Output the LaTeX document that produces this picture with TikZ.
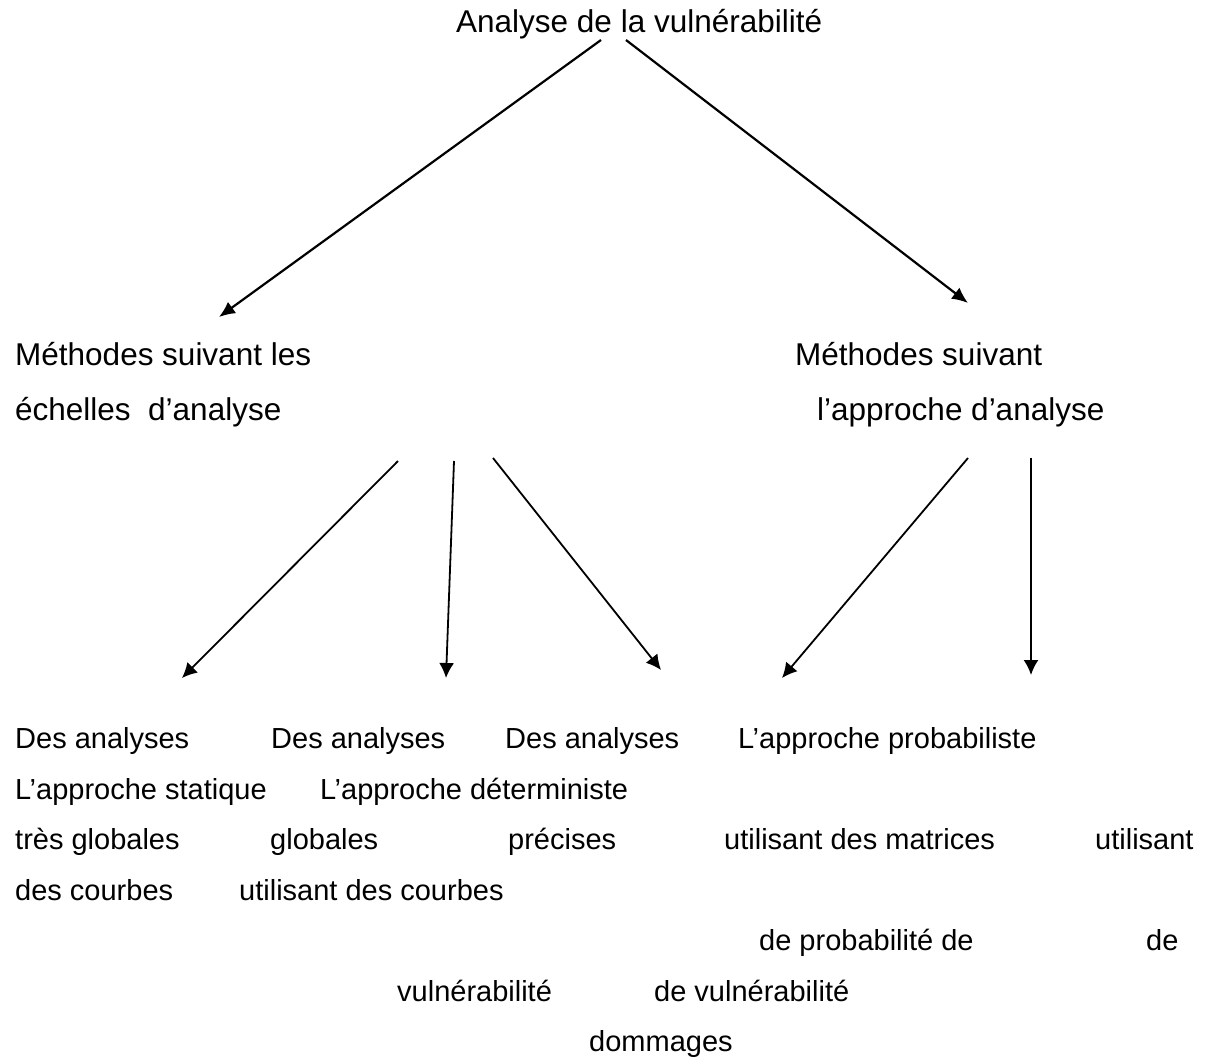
\documentclass[tikz,border=0pt]{standalone}
\usepackage{fontspec}
\setmainfont{Liberation Sans}
\usetikzlibrary{arrows.meta}
\begin{document}
\begin{tikzpicture}[x=1pt,y=-1pt,
  big/.style={anchor=base west,inner sep=0pt,font=\fontsize{31.5}{38}\selectfont},
  txt/.style={anchor=base west,inner sep=0pt,font=\fontsize{29}{35}\selectfont},
  link/.style={-{Latex[length=16pt,width=14pt]},line width=2.2pt},
  sublink/.style={-{Latex[length=15pt,width=15pt]},line width=1.8pt}]
\useasboundingbox (0,0) rectangle (1208,1061);

% heading and the two families of methods
\node[big] (title) at (456,32) {Analyse de la vulnérabilité};
\node[big] (echA) at (15,365) {Méthodes suivant les};
\node[big] (echB) at (15,420) {échelles\ \ d’analyse};
\node[big] (appA) at (795,365) {Méthodes suivant};
\node[big] (appB) at (817,420) {l’approche d’analyse};

% the five kinds of analysis, line by line
\node[txt] (r1a) at (15,748) {Des analyses};
\node[txt] (r1b) at (271,748) {Des analyses};
\node[txt] (r1c) at (505,748) {Des analyses};
\node[txt] (r1d) at (738,748) {L’approche probabiliste};
\node[txt] (r2a) at (15,799) {L’approche statique};
\node[txt] (r2b) at (320,799) {L’approche déterministe};
\node[txt] (r3a) at (15,849) {très globales};
\node[txt] (r3b) at (270,849) {globales};
\node[txt] (r3c) at (508,849) {précises};
\node[txt] (r3d) at (724,849) {utilisant des matrices};
\node[txt] (r3e) at (1095,849) {utilisant};
\node[txt] (r4a) at (15,900) {des courbes};
\node[txt] (r4b) at (239,900) {utilisant des courbes};
\node[txt] (r5a) at (759,950) {de probabilité de};
\node[txt] (r5b) at (1146,950) {de};
\node[txt] (r6a) at (397,1001) {vulnérabilité};
\node[txt] (r6b) at (654,1001) {de vulnérabilité};
\node[txt] (r7a) at (589,1051) {dommages};

% arrow ends
\coordinate (tL) at (601,40);
\coordinate (tR) at (626,40);
\coordinate (eL) at (219,317);
\coordinate (eR) at (968,303);
\coordinate (s1) at (398,461);
\coordinate (s2) at (454,461);
\coordinate (s3) at (493,458);
\coordinate (s4) at (968,458);
\coordinate (s5) at (1031,458);
\coordinate (d1) at (182,678);
\coordinate (d2) at (446,678);
\coordinate (d3) at (661,670);
\coordinate (d4) at (782,678);
\coordinate (d5) at (1031,675);

\draw[link] (tL) -- (eL);
\draw[link] (tR) -- (eR);
\draw[sublink] (s1) -- (d1);
\draw[sublink] (s2) -- (d2);
\draw[sublink] (s3) -- (d3);
\draw[sublink] (s4) -- (d4);
\draw[sublink] (s5) -- (d5);
\end{tikzpicture}
\end{document}
